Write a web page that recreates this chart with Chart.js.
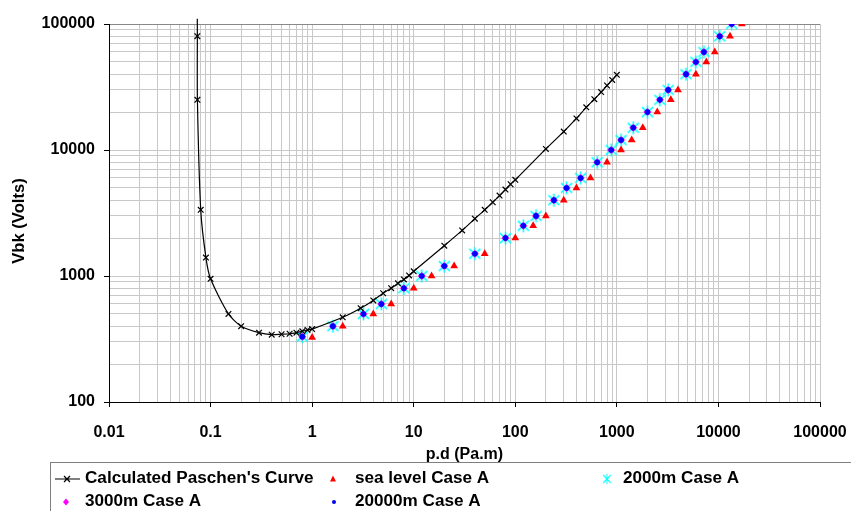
<!DOCTYPE html>
<html>
<head>
<meta charset="utf-8">
<title>Paschen curve</title>
<script src="https://cdn.jsdelivr.net/npm/chart.js@4/dist/chart.umd.min.js"></script>
<style>
  html, body { margin: 0; padding: 0; background: #fff; }
  canvas { display: block; }
</style>
</head>
<body>
<canvas id="chart" width="851" height="511"></canvas>
<script>
// Calculated Paschen's curve (p.d in Pa.m, breakdown voltage in volts)
const paschenPd = [0.074, 0.0741, 0.0742, 0.08, 0.09, 0.1, 0.15, 0.2, 0.3, 0.4, 0.5, 0.6, 0.7, 0.8, 0.9, 1,
    2, 3, 4, 5, 6, 7, 8, 9, 10, 20, 30, 40, 50, 60, 70, 80, 90, 100,
    200, 300, 400, 500, 600, 700, 800, 900, 1000];
const paschenV = [110000, 80000, 25000, 3350, 1400, 950, 500, 400, 355, 342, 345, 348, 355, 364, 373, 379,
    470, 555, 640, 730, 800, 875, 940, 1010, 1090, 1740, 2300, 2850, 3350, 3850, 4350, 4850, 5350, 5800,
    10200, 14000, 17800, 21800, 25300, 28800, 32500, 36000, 39500];

// measured points, sea level
const seaLevelPd = [1, 2, 4, 6, 10, 15, 25, 50, 100, 150, 200, 300, 400, 550, 800, 1100, 1400, 1800,
    2500, 3400, 4000, 6000, 7600, 9200, 13000, 17000];
const seaLevelV = [325, 400, 500, 600, 800, 1000, 1200, 1500, 2000, 2500, 3000, 4000, 5000, 6000, 8000,
    10000, 12000, 15000, 20000, 25000, 30000, 40000, 50000, 60000, 80000, 100000];

// the 2000m, 3000m and 20000m points sit on top of each other in the picture
const altitudePd = [0.8, 1.6, 3.2, 4.8, 8, 12, 20, 40, 80, 120, 160, 240, 320, 440, 640, 880, 1100, 1450,
    2000, 2650, 3200, 4800, 6000, 7200, 10300, 13500];
const altitudeV = [330, 400, 500, 600, 800, 1000, 1200, 1500, 2000, 2500, 3000, 4000, 5000, 6000, 8000,
    10000, 12000, 15000, 20000, 25000, 30000, 40000, 50000, 60000, 80000, 100000];

const seriesNames = ["Calculated Paschen's Curve", 'sea level Case A', '2000m Case A', '3000m Case A', '20000m Case A'];

const xRange = [0.01, 100000];
const yRange = [100, 100000];

const FONT = "'Liberation Sans', Arial, sans-serif";
Chart.defaults.font.family = FONT;
Chart.defaults.font.size = 16;
Chart.defaults.font.weight = 'bold';
Chart.defaults.color = '#000';

function points(xs, ys) {
    return xs.map((x, i) => ({ x: x, y: ys[i] }));
}

// 1..9 x 10^n ticks, decades marked as major
function decadeTicks(min, max) {
    const ticks = [];
    for (let e = Math.round(Math.log10(min)); e <= Math.round(Math.log10(max)); e++) {
        for (let m = 1; m <= 9; m++) {
            const v = +(m * Math.pow(10, e)).toPrecision(6);
            if (v > max * 1.0001) break;
            ticks.push({ value: v, major: m === 1 });
        }
    }
    return ticks;
}

function makeAsterisk(size, color) {
    const c = document.createElement('canvas');
    c.width = size;
    c.height = size;
    const g = c.getContext('2d');
    const m = size / 2, r = size / 2 - 1;
    g.strokeStyle = color;
    g.lineWidth = 1.6;
    g.beginPath();
    g.moveTo(m - r * 0.85, m - r * 0.75); g.lineTo(m + r * 0.85, m + r * 0.75);
    g.moveTo(m + r * 0.85, m - r * 0.75); g.lineTo(m - r * 0.85, m + r * 0.75);
    g.moveTo(m, m - r); g.lineTo(m, m + r);
    g.stroke();
    return c;
}

const asterisk = makeAsterisk(15, '#00ffff');

// text a little wider than the font, as in the original
function wideText(ctx, text, x, y, stretch) {
    ctx.save();
    ctx.translate(x, y);
    ctx.scale(stretch, 1);
    ctx.fillText(text, 0, 0);
    ctx.restore();
}

const scaleCommon = {
    type: 'logarithmic',
    border: { color: '#000', width: 1 },
    grid: {
        color: '#c8c8c8',
        lineWidth: 1,
        tickLength: 5,
        tickColor: ctx => (ctx.tick && ctx.tick.major) ? '#000' : 'rgba(0,0,0,0)'
    },
    ticks: {
        autoSkip: false,
        maxRotation: 0,
        font: { size: 16, weight: 'bold' },
        color: '#000',
        callback: (value, i, ticks) => ticks[i].major ? String(+value.toPrecision(6)) : ''
    }
};

// legend box and y axis title, drawn like the original spreadsheet chart
const extras = {
    id: 'extras',
    afterDraw(chart) {
        const ctx = chart.ctx;
        const ds = chart.data.datasets;
        ctx.save();

        // y title
        ctx.font = 'bold 16px ' + FONT;
        ctx.fillStyle = '#000';
        ctx.textAlign = 'center';
        ctx.textBaseline = 'middle';
        ctx.save();
        ctx.translate(20, 221);
        ctx.rotate(-Math.PI / 2);
        wideText(ctx, 'Vbk (Volts)', 0, 0, 1.04);
        ctx.restore();

        // box
        ctx.strokeStyle = '#7f7f7f';
        ctx.lineWidth = 1;
        ctx.strokeRect(50.5, 462.5, 830, 70);

        const slots = [
            { mx: 67, tx: 85, y: 479 },
            { mx: 333, tx: 355, y: 479 },
            { mx: 607, tx: 623, y: 479 },
            { mx: 66, tx: 85, y: 502 },
            { mx: 334, tx: 355, y: 502 }
        ];

        ds.forEach((d, i) => {
            const s = slots[i];
            const x = s.mx, y = s.y;
            ctx.fillStyle = d.backgroundColor;
            ctx.strokeStyle = d.borderColor;
            ctx.lineWidth = 1.2;
            ctx.beginPath();
            if (i === 0) {
                ctx.moveTo(55, y); ctx.lineTo(80, y);
                ctx.moveTo(x - 3, y - 3); ctx.lineTo(x + 3, y + 3);
                ctx.moveTo(x + 3, y - 3); ctx.lineTo(x - 3, y + 3);
                ctx.stroke();
            } else if (d.pointStyle === 'triangle') {
                ctx.moveTo(x, y - 3.5); ctx.lineTo(x + 3, y + 2.5); ctx.lineTo(x - 3, y + 2.5);
                ctx.closePath();
                ctx.fill();
            } else if (d.pointStyle === 'rectRot') {
                ctx.moveTo(x, y - 3.5); ctx.lineTo(x + 3, y); ctx.lineTo(x, y + 3.5); ctx.lineTo(x - 3, y);
                ctx.closePath();
                ctx.fill();
            } else if (d.pointStyle === 'circle') {
                ctx.arc(x, y, 2, 0, Math.PI * 2);
                ctx.fill();
            } else {
                ctx.drawImage(d.pointStyle, x - 5, y - 6, 10, 12);
            }
            ctx.fillStyle = '#000';
            ctx.textAlign = 'left';
            wideText(ctx, d.label, s.tx, y, 1.07);
        });
        ctx.restore();
    }
};

new Chart(document.getElementById('chart'), {
    type: 'scatter',
    data: {
        datasets: [
            {
                label: seriesNames[0],
                data: points(paschenPd, paschenV),
                showLine: true,
                borderColor: '#000',
                backgroundColor: '#000',
                borderWidth: 1.2,
                tension: 0.25,
                pointStyle: 'crossRot',
                pointRadius: paschenPd.map((v, i) => i === 0 ? 0 : 4),
                pointBorderWidth: 1.2,
                clip: { left: 0, top: 6, right: 0, bottom: 0 },
                order: 0
            },
            {
                label: seriesNames[1],
                data: points(seaLevelPd, seaLevelV),
                borderColor: '#ff0000',
                backgroundColor: '#ff0000',
                pointStyle: 'triangle',
                pointRadius: 4.5,
                pointBorderWidth: 0,
                order: 1
            },
            {
                label: seriesNames[2],
                data: points(altitudePd, altitudeV),
                borderColor: '#00ffff',
                backgroundColor: '#00ffff',
                pointStyle: asterisk,
                pointRadius: 7,
                order: 4
            },
            {
                label: seriesNames[3],
                data: points(altitudePd, altitudeV),
                borderColor: '#ff00ff',
                backgroundColor: '#ff00ff',
                pointStyle: 'rectRot',
                pointRadius: 4,
                pointBorderWidth: 0,
                order: 3
            },
            {
                label: seriesNames[4],
                data: points(altitudePd, altitudeV),
                borderColor: '#0000ff',
                backgroundColor: '#0000ff',
                pointStyle: 'circle',
                pointRadius: 2.8,
                pointBorderWidth: 0,
                order: 2
            }
        ]
    },
    options: {
        responsive: false,
        animation: false,
        events: [],
        layout: { padding: { left: 0, right: 31, top: 24, bottom: 47 } },
        plugins: {
            legend: { display: false },
            tooltip: { enabled: false }
        },
        scales: {
            x: {
                ...scaleCommon,
                min: xRange[0],
                max: xRange[1],
                ticks: { ...scaleCommon.ticks, padding: 16 },
                title: { display: true, text: 'p.d (Pa.m)', font: { size: 16, weight: 'bold' }, color: '#000', padding: 0 },
                afterBuildTicks: scale => { scale.ticks = decadeTicks(xRange[0], xRange[1]); },
                afterFit: scale => {
                    scale.height = 62;
                    scale.paddingLeft = 0;
                    scale.paddingRight = 0;
                }
            },
            y: {
                ...scaleCommon,
                min: yRange[0],
                max: yRange[1],
                grid: {
                    ...scaleCommon.grid,
                    color: ctx => (ctx.tick && ctx.tick.value === yRange[1]) ? '#888' : '#c8c8c8'
                },
                ticks: { ...scaleCommon.ticks, padding: 9 },
                afterBuildTicks: scale => { scale.ticks = decadeTicks(yRange[0], yRange[1]); },
                afterFit: scale => {
                    scale.width = 109;
                    scale.paddingTop = 0;
                    scale.paddingBottom = 0;
                }
            }
        }
    },
    plugins: [extras]
});
</script>
</body>
</html>
